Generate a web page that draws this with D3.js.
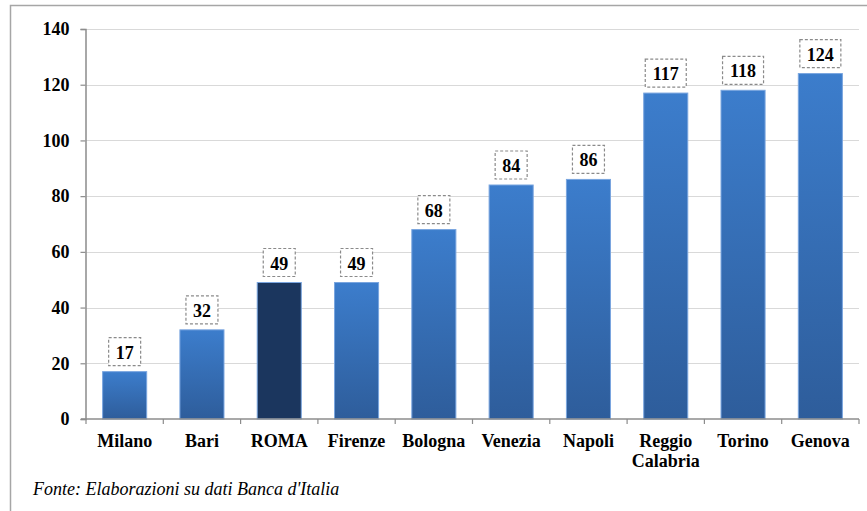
<!DOCTYPE html>
<html><head><meta charset="utf-8">
<script src="https://cdn.jsdelivr.net/npm/d3@7"></script>
<style>body{margin:0;background:#fff;} svg{display:block;}</style>
</head><body>
<svg id="c" width="867" height="511"></svg>
<script>
const categories = ["Milano","Bari","ROMA","Firenze","Bologna","Venezia","Napoli","Reggio Calabria","Torino","Genova"];
const values = [17,32,49,49,68,84,86,117,118,124];
const highlight = ["ROMA"];
const yTicks = [0,20,40,60,80,100,120,140];
const sourceText = "Fonte: Elaborazioni su dati Banca d'Italia";

const FONT = "'Liberation Serif', 'Times New Roman', serif";
const svg = d3.select("#c");
const M = {left:86, right:859, top:29, bottom:419};
const x = d3.scaleBand().domain(categories).range([M.left, M.right]).paddingInner(0.43).paddingOuter(0.215);
const y = d3.scaleLinear().domain([0,140]).range([M.bottom, M.top]);

const defs = svg.append("defs");
const g1 = defs.append("linearGradient").attr("id","gb").attr("x1",0).attr("y1",0).attr("x2",0).attr("y2",1);
g1.append("stop").attr("offset","0%").attr("stop-color","#3c7dcc");
g1.append("stop").attr("offset","100%").attr("stop-color","#2e5d9b");

// outer frame
svg.append("rect").attr("x",10.5).attr("y",5.5).attr("width",900).attr("height",600)
  .attr("fill","none").attr("stroke","#a6a6a6").attr("stroke-width",1.5);

// gridlines
svg.append("g").selectAll("line").data(yTicks.filter(d=>d>0)).join("line")
  .attr("x1",M.left).attr("x2",M.right).attr("y1",d=>Math.round(y(d))+0.5).attr("y2",d=>Math.round(y(d))+0.5)
  .attr("stroke","#d9d9d9").attr("stroke-width",1);

// bars
svg.append("g").selectAll("rect").data(categories).join("rect")
  .attr("x",d=>x(d)).attr("width",x.bandwidth())
  .attr("y",(d,i)=>y(values[i])).attr("height",(d,i)=>y(0)-y(values[i]))
  .attr("fill",d=>highlight.includes(d)?"#1b365e":"url(#gb)")
  .attr("stroke","#79a5df").attr("stroke-width",1);

// y axis
const ya = svg.append("g").attr("transform",`translate(${M.left-0.5},0)`)
  .call(d3.axisLeft(y).tickValues(yTicks).tickSize(5).tickPadding(11));
ya.attr("font-family",null).attr("font-size",null);
ya.select(".domain").attr("stroke","#8c8c8c").attr("stroke-width",1.5);
ya.selectAll(".tick line").attr("stroke","#8c8c8c").attr("stroke-width",1.2);
ya.selectAll("text").style("font-family",FONT)
  .style("font-weight","bold").style("font-size","18px").attr("fill","#000");

// x axis
const xa = svg.append("g").attr("transform",`translate(0,${M.bottom})`);
xa.append("line").attr("x1",M.left-5).attr("x2",M.right).attr("y1",0).attr("y2",0)
  .attr("stroke","#8c8c8c").attr("stroke-width",1.5);
const bounds = categories.map(d=>x(d)-x.step()*x.paddingInner()/2);
bounds.push(M.right);
xa.selectAll("line.t").data(bounds).join("line").attr("class","t")
  .attr("x1",d=>d).attr("x2",d=>d).attr("y1",0).attr("y2",5).attr("stroke","#8c8c8c").attr("stroke-width",1.2);
xa.selectAll("text").data(categories).join("text")
  .attr("x",d=>x(d)+x.bandwidth()/2).attr("y",28)
  .attr("text-anchor","middle")
  .style("font-family",FONT).style("font-weight","bold").style("font-size","18px").attr("fill","#000")
  .each(function(d){
    const parts = d.split(" ");
    d3.select(this).selectAll("tspan").data(parts).join("tspan")
      .attr("x",x(d)+x.bandwidth()/2).attr("dy",(p,i)=>i?20:0).text(p=>p);
  });

// value labels
const lab = svg.append("g").selectAll("g").data(categories).join("g")
  .attr("transform",(d,i)=>`translate(${x(d)+x.bandwidth()/2},${y(values[i])-6})`);
lab.each(function(d,i){
  const s = String(values[i]);
  const w = s.length===3?41:32;
  const gg = d3.select(this);
  gg.append("rect").attr("x",-w/2).attr("y",-28).attr("width",w).attr("height",28)
    .attr("fill","#fff").attr("stroke","#8a8a8a").attr("stroke-width",1.2).attr("stroke-dasharray","3,2");
  gg.append("text").attr("x",0).attr("y",-7).attr("text-anchor","middle")
    .style("font-family",FONT).style("font-weight","bold").style("font-size","18px").attr("fill","#000").text(s);
});

// source
svg.append("text").attr("x",33).attr("y",495)
  .style("font-family",FONT).style("font-style","italic").style("font-size","18px").attr("fill","#000").text(sourceText);
</script>
</body></html>
